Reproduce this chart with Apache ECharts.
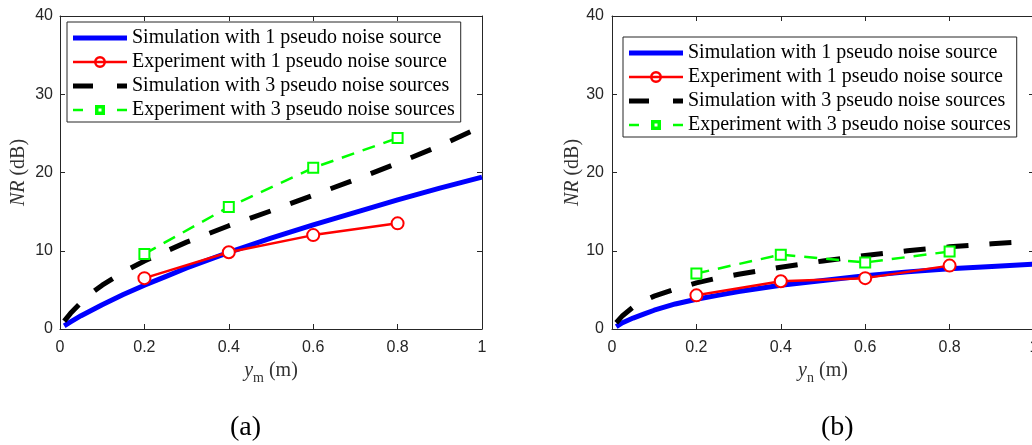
<!DOCTYPE html>
<html><head><meta charset="utf-8">
<script src="https://cdn.jsdelivr.net/npm/echarts@6/dist/echarts.min.js"></script>
<style>html,body{margin:0;padding:0;background:#fff}#c{width:1032px;height:445px}</style>
</head><body><div id="c"></div>
<script>
// ---- data ----
const seriesNames = [
  'Simulation with 1 pseudo noise source',
  'Experiment with 1 pseudo noise source',
  'Simulation with 3 pseudo noise sources',
  'Experiment with 3 pseudo noise sources'
];
const simX  = [0.01, 0.025, 0.05, 0.075, 0.1, 0.15, 0.2, 0.25, 0.3, 0.4, 0.5, 0.6, 0.7, 0.8, 0.9, 1.0];
// panel (a): y_m
const simA1 = [0.4, 0.9, 1.7, 2.4, 3.1, 4.4, 5.6, 6.7, 7.8, 9.8, 11.6, 13.3, 14.9, 16.5, 18.0, 19.4];
const simA3 = [1.0, 2.0, 3.4, 4.6, 5.6, 7.3, 8.7, 9.9, 11.1, 13.2, 15.1, 17.1, 19.1, 21.2, 23.4, 25.9];
// panel (b): y_n
const simB1 = [0.3, 0.8, 1.4, 1.9, 2.4, 3.2, 3.8, 4.3, 4.8, 5.6, 6.2, 6.8, 7.3, 7.7, 8.0, 8.3];
const simB3 = [0.8, 1.7, 2.8, 3.6, 4.2, 5.1, 5.9, 6.5, 7.0, 7.9, 8.7, 9.4, 10.0, 10.5, 10.9, 11.2];
const expX  = [0.2, 0.4, 0.6, 0.8];
const expA1 = [6.5, 9.8, 12.0, 13.5];
const expA3 = [9.6, 15.6, 20.6, 24.4];
const expB1 = [4.3, 6.1, 6.5, 8.1];
const expB3 = [7.1, 9.5, 8.5, 9.9];
const xTicks = [0, 0.2, 0.4, 0.6, 0.8, 1];
const yTicks = [0, 10, 20, 30, 40];
const captions = ['(a)', '(b)'];
const xNames = ['{i|y}{s|m}{r| (m)}', '{i|y}{s|n}{r| (m)}'];
const yName = '{i|NR}{r| (dB)}';

// ---- styling / layout ----
const AX = '#262626';
const serif = '"Liberation Serif", "Times New Roman", serif';
const sans = '"Liberation Sans", Arial, Helvetica, sans-serif';
const colors = ['#0000ff', '#ff0000', '#000000', '#00ff00'];
const icons = [
  'path://M0,0H54V5H0Z',
  'path://M0,4.75H54V7.25H0Z M33,6A6,6 0 1,1 21,6A6,6 0 1,1 33,6Z M30.5,6A3.5,3.5 0 1,0 23.5,6A3.5,3.5 0 1,0 30.5,6Z',
  'path://M0,0H20V5H0Z M44,0H54V5H44Z',
  'path://M0,3.75H10V6.25H0Z M22,0H32V10H22Z M25.5,3.5V6.5H28.5V3.5Z M44,3.75H54V6.25H44Z'
];

const grids = [
  {left: 60, top: 16, width: 422, height: 313, outerBoundsMode: 'none', containLabel: false},
  {left: 612, top: 16, width: 422, height: 313, outerBoundsMode: 'none', containLabel: false}
];
const xMin = xTicks[0], xMax = xTicks[xTicks.length - 1], xInt = xTicks[1] - xTicks[0];
const yMin = yTicks[0], yMax = yTicks[yTicks.length - 1], yInt = yTicks[1] - yTicks[0];

const nameRich = {
  i: {fontFamily: serif, fontStyle: 'italic', fontSize: 20, color: '#333', lineHeight: 28},
  s: {fontFamily: serif, fontSize: 14, color: '#333', lineHeight: 16, verticalAlign: 'bottom'},
  r: {fontFamily: serif, fontSize: 20, color: '#333', lineHeight: 28}
};

const xAxes = [], yAxes = [];
grids.forEach((g, gi) => {
  const common = {
    gridIndex: gi, type: 'value',
    axisLine: {show: true, onZero: false, lineStyle: {color: AX, width: 1}},
    axisTick: {show: true, inside: true, length: 5, lineStyle: {color: AX}},
    splitLine: {show: false}
  };
  xAxes.push(Object.assign({}, common, {
    position: 'bottom', min: xMin, max: xMax, interval: xInt,
    axisLabel: {show: true, margin: 11, color: AX, fontFamily: sans, fontSize: 16},
    name: xNames[gi], nameLocation: 'middle', nameGap: 28,
    nameTextStyle: {rich: nameRich}
  }));
  xAxes.push(Object.assign({}, common, {
    position: 'top', min: xMin, max: xMax, interval: xInt, axisLabel: {show: false}
  }));
  yAxes.push(Object.assign({}, common, {
    position: 'left', min: yMin, max: yMax, interval: yInt,
    axisLabel: {show: true, margin: gi === 0 ? 7 : 8, color: AX, fontFamily: sans, fontSize: 16},
    name: yName, nameLocation: 'middle', nameGap: gi === 0 ? 27 : 25,
    nameTextStyle: {rich: nameRich}
  }));
  yAxes.push(Object.assign({}, common, {
    position: 'right', min: yMin, max: yMax, interval: yInt, axisLabel: {show: false}
  }));
});

function pairs(xs, ys) { return xs.map((x, i) => [x, ys[i]]); }

const panelData = [
  [pairs(simX, simA1), pairs(expX, expA1), pairs(simX, simA3), pairs(expX, expA3)],
  [pairs(simX, simB1), pairs(expX, expB1), pairs(simX, simB3), pairs(expX, expB3)]
];

const series = [];
panelData.forEach((sets, gi) => {
  series.push({
    name: seriesNames[0], type: 'line', xAxisIndex: gi * 2, yAxisIndex: gi * 2,
    data: sets[0], symbol: 'none', color: colors[0],
    lineStyle: {color: colors[0], width: 5}, z: 2, animation: false
  });
  series.push({
    name: seriesNames[1], type: 'line', xAxisIndex: gi * 2, yAxisIndex: gi * 2,
    data: sets[1], symbol: 'emptyCircle', symbolSize: 12, color: colors[1],
    lineStyle: {color: colors[1], width: 2.5},
    itemStyle: {color: colors[1], borderColor: colors[1], borderWidth: 2.5}, z: 3, animation: false
  });
  series.push({
    name: seriesNames[2], type: 'line', xAxisIndex: gi * 2, yAxisIndex: gi * 2,
    data: sets[2], symbol: 'none', color: colors[2],
    lineStyle: {color: colors[2], width: 5, type: [22, 21]}, z: 4, animation: false
  });
  series.push({
    name: seriesNames[3], type: 'line', xAxisIndex: gi * 2, yAxisIndex: gi * 2,
    data: sets[3], symbol: 'emptyRect', symbolSize: 10, color: colors[3],
    lineStyle: {color: colors[3], width: 2.5, type: [13, 9]},
    itemStyle: {color: colors[3], borderColor: colors[3], borderWidth: 2.5}, z: 5, animation: false
  });
});

const legendBase = {
  orient: 'vertical', itemWidth: 54, itemHeight: 14, itemGap: 0,
  padding: [4, 6, 0, 6], backgroundColor: '#fff', borderColor: AX, borderWidth: 1,
  selectedMode: false,
  itemStyle: {borderWidth: 0},
  textStyle: {fontFamily: serif, fontSize: 20, color: '#000', lineHeight: 24},
  data: seriesNames.map((n, i) => ({name: n, icon: icons[i]}))
};
const legends = [
  Object.assign({}, legendBase, {left: 67, top: 22}),
  Object.assign({}, legendBase, {left: 623, top: 37})
];

const chart = echarts.init(document.getElementById('c'), null, {renderer: 'canvas'});
chart.setOption({
  animation: false,
  backgroundColor: '#fff',
  grid: grids,
  xAxis: xAxes,
  yAxis: yAxes,
  legend: legends,
  series: series,
  graphic: [
    {type: 'text', left: 230, top: 414, style: {text: captions[0], font: '28px ' + serif, fill: '#000'}},
    {type: 'text', left: 821, top: 414, style: {text: captions[1], font: '28px ' + serif, fill: '#000'}}
  ]
});
</script>
</body></html>
